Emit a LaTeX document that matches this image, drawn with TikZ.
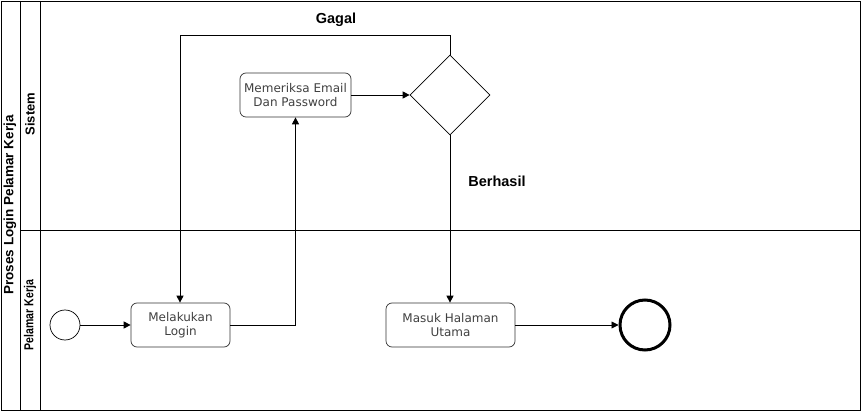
\documentclass[tikz,border=0pt]{standalone}
\usepackage{fontspec}
\setmainfont{DejaVu Sans}
\newfontfamily\arialf{Liberation Sans}
\usetikzlibrary{shapes.geometric,arrows.meta}
\begin{document}
\begin{tikzpicture}[x=1pt,y=-1pt,
  lane/.style={draw=black,line width=0.9pt},
  act/.style={draw=black!80,rounded corners=6pt,line width=0.7pt,minimum height=44pt,inner sep=0pt,align=center,font=\fontsize{12}{14.5}\selectfont,text=black!75},
  flow/.style={draw=black,line width=0.9pt,-{Triangle[width=7pt,length=7pt]}},
  lbl/.style={font=\arialf\bfseries\fontsize{14.5}{16}\selectfont},
  hdr/.style={font=\arialf\bfseries\fontsize{13.5}{16}\selectfont,rotate=90}]
\useasboundingbox (0,0) rectangle (861,411);
% pool and lanes
\draw[lane] (1,1) rectangle (860,410);
\draw[lane] (20,1) -- (20,410);
\draw[lane] (40,1) -- (40,410);
\draw[lane] (20,230) -- (860,230);
\node[hdr] (pool) at (10,205) {Proses Login Pelamar Kerja};
\node[hdr,font=\arialf\bfseries\fontsize{13}{16}\selectfont] (l1) at (30,114) {Sistem};
\node[hdr,font=\arialf\bfseries\fontsize{13}{16}\selectfont] (l2) at (30,315) {\scalebox{0.81}[1]{Pelamar Kerja}};
% nodes
\node[draw=black,circle,minimum size=30pt,inner sep=0pt,line width=0.7pt] (start) at (65,325) {};
\node[act,minimum width=99pt] (login) at (180.5,325) {Melakukan\\Login};
\node[act,minimum width=111pt] (cek) at (295.5,95) {Memeriksa Email\\Dan Password};
\node[draw=black,diamond,minimum width=80pt,minimum height=80pt,inner sep=0pt,line width=0.7pt] (dec) at (450,95) {};
\node[act,minimum width=129pt] (masuk) at (450.5,325) {Masuk Halaman\\Utama};
\node[draw=black,circle,minimum size=50pt,inner sep=0pt,line width=3pt] (end) at (645,325) {};
\coordinate (g1) at (450,35);
\coordinate (g2) at (180,35);
% labels
\node[lbl] (gagal) at (336,20) {Gagal};
\node[lbl] (berhasil) at (497,181) {Berhasil};
% connectors
\draw[flow] (start) -- (login);
\draw[flow] (login.east) -| (cek.south);
\draw[flow] (cek) -- (dec.west);
\draw[flow] (dec.north) -- (g1) -- (g2) -- (login.north -| g2);
\draw[flow] (dec.south) -- (masuk.north -| dec.south);
\draw[flow] (masuk) -- (end);
\end{tikzpicture}
\end{document}
